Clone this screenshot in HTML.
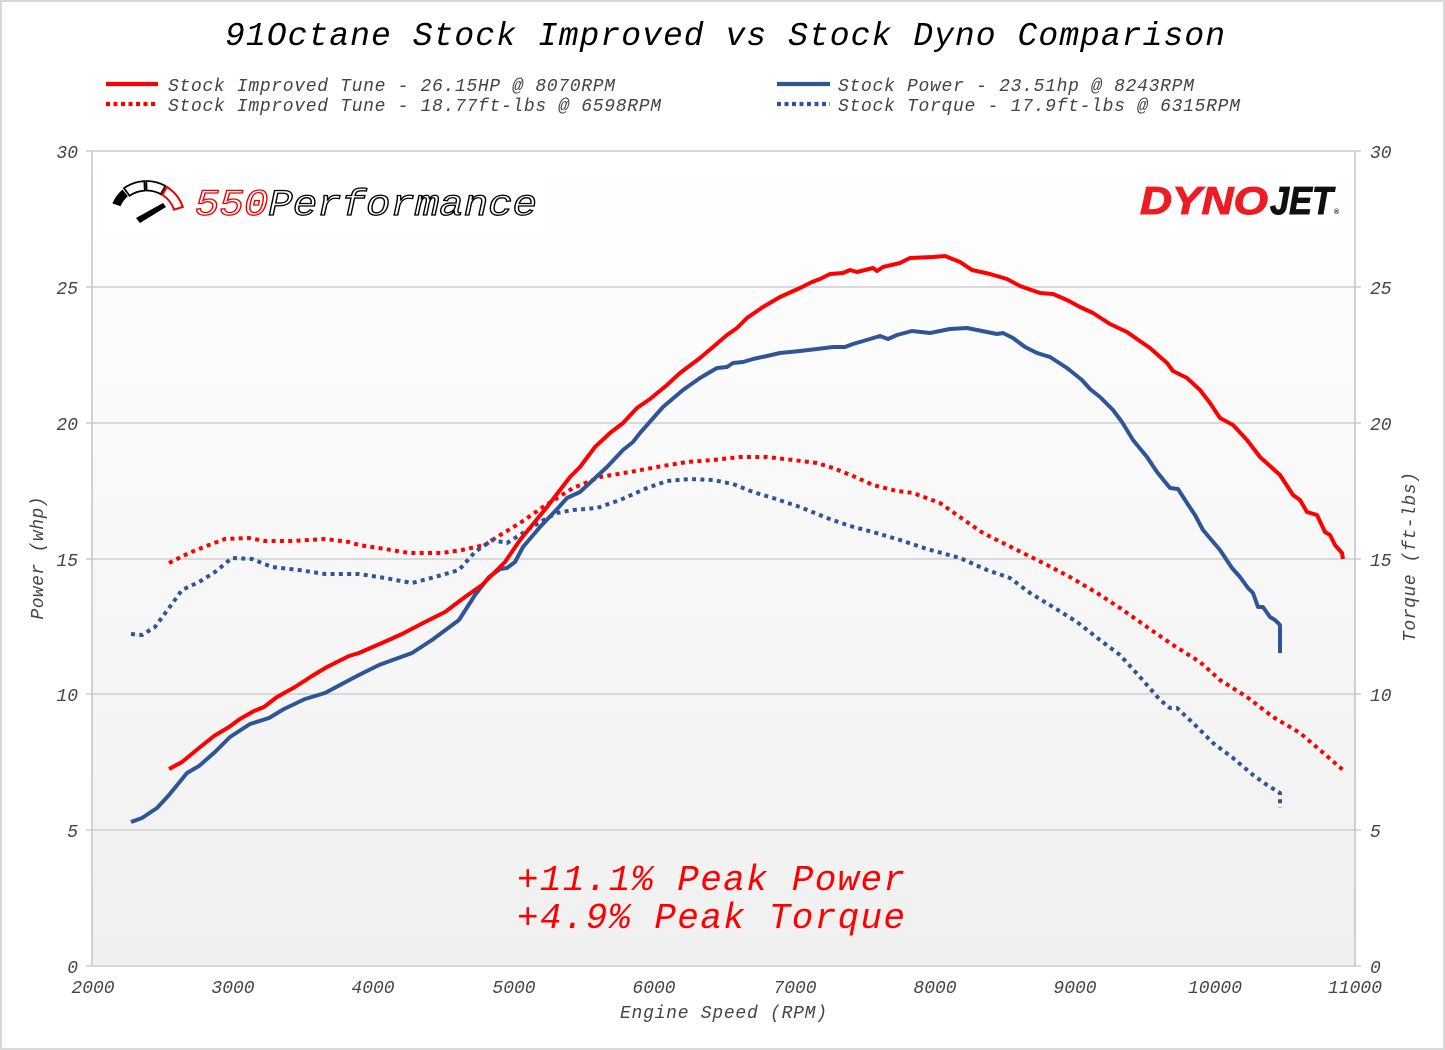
<!DOCTYPE html>
<html>
<head>
<meta charset="utf-8">
<style>
  html,body{margin:0;padding:0;background:#fff;}
  svg{display:block;}
  .m{font-family:"Liberation Mono","DejaVu Sans Mono",monospace;font-style:italic;}
</style>
</head>
<body>
<svg width="1445" height="1050" viewBox="0 0 1445 1050" xmlns="http://www.w3.org/2000/svg">
  <defs>
    <linearGradient id="bg" x1="0" y1="0" x2="0" y2="1">
      <stop offset="0" stop-color="#ffffff"/>
      <stop offset="1" stop-color="#f0f0f0"/>
    </linearGradient>
  </defs>
  <!-- frame -->
  <rect x="1" y="1" width="1443" height="1048" fill="#fff" stroke="#d9d9d9" stroke-width="2"/>
  <!-- plot background -->
  <rect x="92" y="151" width="1263" height="815" fill="url(#bg)"/>

  <!-- gridlines -->
  <g stroke="#d9d9d9" stroke-width="2">
    <line x1="86" y1="151" x2="1361" y2="151"/>
    <line x1="86" y1="287" x2="1361" y2="287"/>
    <line x1="86" y1="423" x2="1361" y2="423"/>
    <line x1="86" y1="559" x2="1361" y2="559"/>
    <line x1="86" y1="694" x2="1361" y2="694"/>
    <line x1="86" y1="830" x2="1361" y2="830"/>
    <line x1="86" y1="966" x2="1361" y2="966"/>
  </g>
  <g stroke="#c4c4c4" stroke-width="1.5">
    <line x1="92" y1="151" x2="92" y2="966"/>
    <line x1="1355" y1="151" x2="1355" y2="966"/>
  </g>

  <!-- logos -->
  <rect x="100" y="168" width="450" height="64" fill="#fff"/>
  <rect x="1135" y="170" width="205" height="60" fill="#fff"/>
  <g>
    <!-- gauge -->
    <path d="M112.4,203.4 A38.5,38.5 0 0 1 122.5,189.5 L127.8,196.2 A29,29 0 0 0 120.5,206.2 Z" fill="#000"/>
    <path d="M124.0,188.2 A38.5,38.5 0 0 1 144.3,181.1 L144.8,190.6 A29,29 0 0 0 129.5,195.8 Z" fill="#fff" stroke="#000" stroke-width="1.8"/>
    <path d="M146.3,181.0 A38.5,38.5 0 0 1 165.3,185.9 L160.8,194.2 A29,29 0 0 0 146.6,190.5 Z" fill="#fff" stroke="#000" stroke-width="1.8"/>
    <path d="M167.0,187.0 A38.5,38.5 0 0 1 182.8,207.0 L174.1,209.6 A29,29 0 0 0 162.3,194.8 Z" fill="#fff" stroke="#e00" stroke-width="2"/>
    <polygon points="136,218 140,223 166,207 163,203" fill="#000"/>
    <!-- text -->
    <text x="195" y="215" class="m" font-size="37" textLength="342" lengthAdjust="spacingAndGlyphs" stroke-width="1.3"><tspan fill="#fff" stroke="#e00">550</tspan><tspan fill="#fff" stroke="#000">Performance</tspan></text>
  </g>
  <g font-family="Liberation Sans, Arial, sans-serif" font-weight="bold" font-style="italic" font-size="39">
    <text x="1140" y="214" fill="#ed1c24" stroke="#ed1c24" stroke-width="1" textLength="128" lengthAdjust="spacingAndGlyphs">DYNO</text>
    <text x="1270" y="214" fill="#111" stroke="#111" stroke-width="1" textLength="63" lengthAdjust="spacingAndGlyphs">JET</text>
    <text x="1334" y="214" fill="#111" font-size="7" font-style="normal">®</text>
  </g>

  <!-- series -->
  <g fill="none" stroke-width="4" stroke-linejoin="round">
    <polyline stroke="#ff0000" stroke-dasharray="4 4.3" points="169,563 189,553 209,545 225,539 249,538 265,541 292,541 325,539 349,542 359,545 385,549 409,553 442,553 462,550 485,545 497,537 520,523 543,507 573,488 600,477 630,472 657,467 687,462 713,460 740,457 767,457 793,460 817,463 833,468 853,476 873,485 897,491 913,493 940,503 967,522 983,533 1007,545 1027,555 1047,565 1070,577 1097,593 1120,608 1147,627 1173,645 1200,662 1220,680 1247,697 1273,717 1300,733 1320,750 1343,770"/>
    <polyline stroke="#2f5597" stroke-dasharray="4 4.3" points="131,634 142,635 155,627 169,608 182,590 199,582 215,572 232,558 252,559 272,567 299,570 325,574 359,574 385,578 412,583 435,577 459,570 475,552 492,540 507,543 523,533 540,522 557,513 573,510 597,508 620,500 647,488 667,481 690,479 713,480 733,484 753,492 773,498 800,507 827,518 850,526 873,532 900,540 927,549 960,558 987,570 1010,578 1030,593 1053,607 1077,622 1100,640 1120,655 1140,677 1160,700 1170,708 1177,708 1193,723 1213,743 1233,758 1253,775 1267,785 1280,793 1280,808"/>
    <polyline stroke="#2f5597" points="131,822 142,818 157,808 169,795 187,773 199,766 215,752 230,737 250,724 269,718 284,709 305,699 325,693 355,677 379,665 412,653 432,640 459,620 475,595 489,577 500,569 507,568 515,562 523,547 540,527 559,507 567,498 580,492 607,467 623,450 633,442 640,433 663,407 683,390 700,378 717,368 727,367 733,363 743,362 753,359 767,356 780,353 800,351 817,349 833,347 845,347 853,344 870,339 880,336 888,339 897,335 912,331 930,333 950,329 967,328 987,332 997,334 1003,333 1013,338 1025,347 1037,353 1050,357 1067,368 1082,380 1090,389 1100,397 1113,410 1122,422 1133,440 1147,457 1157,472 1170,488 1178,489 1187,503 1195,515 1203,530 1220,550 1232,568 1240,577 1248,588 1253,593 1258,607 1263,607 1270,617 1275,620 1280,625 1280,653"/>
    <polyline stroke="#ff0000" points="169,769 182,762 199,748 214,736 229,727 240,719 254,711 264,707 277,697 295,687 312,676 327,667 349,656 359,653 382,643 402,634 425,622 445,612 465,597 482,585 505,562 520,540 547,507 570,477 580,467 595,447 610,433 623,423 637,408 650,399 667,385 680,373 700,358 713,347 727,335 737,328 747,318 763,307 780,297 800,288 812,282 820,279 830,274 843,273 850,270 857,272 873,268 877,271 883,267 900,263 910,258 933,257 945,256 960,262 972,270 990,274 1007,279 1020,286 1040,293 1053,294 1067,300 1080,307 1093,313 1110,324 1127,332 1137,339 1150,348 1167,363 1173,371 1187,378 1200,390 1210,403 1220,418 1233,425 1247,440 1260,457 1280,475 1293,495 1300,500 1307,512 1317,515 1325,532 1330,535 1335,545 1342,553 1343,559"/>
  </g>

  <!-- title -->
  <text x="225" y="45" class="m" font-size="33" fill="#000" textLength="1000" lengthAdjust="spacing">91Octane Stock Improved vs Stock Dyno Comparison</text>

  <!-- legend -->
  <g stroke-width="4.3">
    <line x1="106" y1="84" x2="158" y2="84" stroke="#ff0000"/>
    <line x1="106" y1="104" x2="158" y2="104" stroke="#ff0000" stroke-dasharray="4 3.5"/>
    <line x1="777" y1="84" x2="830" y2="84" stroke="#2f5597"/>
    <line x1="777" y1="104" x2="830" y2="104" stroke="#2f5597" stroke-dasharray="4 3.5"/>
  </g>
  <g class="m" font-size="18" fill="#444">
    <text x="168" y="91" textLength="447" lengthAdjust="spacing">Stock Improved Tune - 26.15HP @ 8070RPM</text>
    <text x="168" y="111" textLength="493" lengthAdjust="spacing">Stock Improved Tune - 18.77ft-lbs @ 6598RPM</text>
    <text x="838" y="91" textLength="356" lengthAdjust="spacing">Stock Power - 23.51hp @ 8243RPM</text>
    <text x="838" y="111" textLength="402" lengthAdjust="spacing">Stock Torque - 17.9ft-lbs @ 6315RPM</text>
  </g>

  <!-- left axis ticks -->
  <g class="m" font-size="18" fill="#444" text-anchor="end">
    <text x="78" y="158">30</text>
    <text x="78" y="294">25</text>
    <text x="78" y="430">20</text>
    <text x="78" y="566">15</text>
    <text x="78" y="701">10</text>
    <text x="78" y="837">5</text>
    <text x="78" y="973">0</text>
  </g>
  <!-- right axis ticks -->
  <g class="m" font-size="18" fill="#444">
    <text x="1370" y="158">30</text>
    <text x="1370" y="294">25</text>
    <text x="1370" y="430">20</text>
    <text x="1370" y="566">15</text>
    <text x="1370" y="701">10</text>
    <text x="1370" y="837">5</text>
    <text x="1370" y="973">0</text>
  </g>
  <!-- x axis ticks -->
  <g class="m" font-size="18" fill="#444" text-anchor="middle">
    <text x="93" y="993">2000</text>
    <text x="233" y="993">3000</text>
    <text x="373" y="993">4000</text>
    <text x="514" y="993">5000</text>
    <text x="654" y="993">6000</text>
    <text x="795" y="993">7000</text>
    <text x="935" y="993">8000</text>
    <text x="1075" y="993">9000</text>
    <text x="1215" y="993">10000</text>
    <text x="1355" y="993">11000</text>
  </g>

  <!-- axis titles -->
  <g class="m" font-size="18" fill="#444">
    <text x="620" y="1018" textLength="207" lengthAdjust="spacing">Engine Speed (RPM)</text>
    <text transform="translate(43,558) rotate(-90)" text-anchor="middle" textLength="123" lengthAdjust="spacing">Power (whp)</text>
    <text transform="translate(1415,557) rotate(-90)" text-anchor="middle" textLength="170" lengthAdjust="spacing">Torque (ft-lbs)</text>
  </g>

  <!-- annotation -->
  <g class="m" font-size="36" fill="#ff0000">
    <text x="517" y="890" textLength="388" lengthAdjust="spacing">+11.1% Peak Power</text>
    <text x="517" y="928" textLength="388" lengthAdjust="spacing">+4.9% Peak Torque</text>
  </g>
</svg>
</body>
</html>
